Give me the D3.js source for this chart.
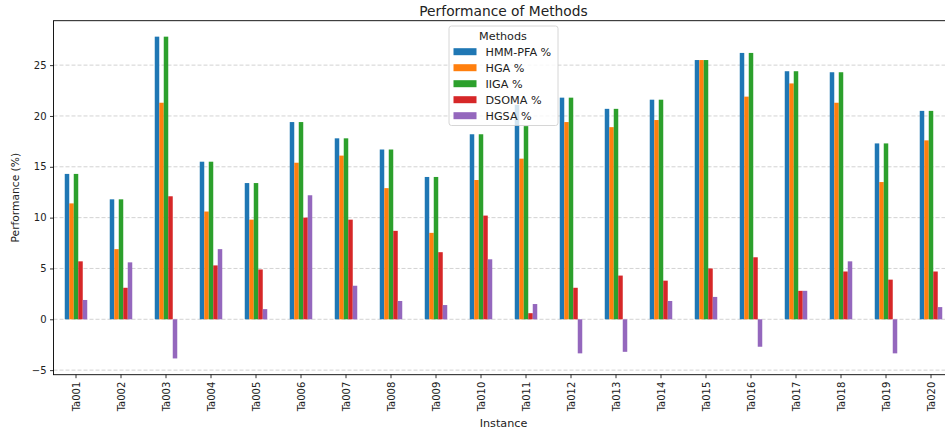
<!DOCTYPE html>
<html>
<head>
<meta charset="utf-8">
<script src="https://cdn.jsdelivr.net/npm/d3@7"></script>
<style>
  body { margin: 0; background: #fff; }
  text { font-family: "DejaVu Sans", sans-serif; fill: #222; }
</style>
</head>
<body>
<div id="chart"></div>
<script>
// values
var instances = ["Ta001","Ta002","Ta003","Ta004","Ta005","Ta006","Ta007","Ta008","Ta009","Ta010",
                 "Ta011","Ta012","Ta013","Ta014","Ta015","Ta016","Ta017","Ta018","Ta019","Ta020"];
var methods = ["HMM-PFA %", "HGA %", "IIGA %", "DSOMA %", "HGSA %"];
var colors = ["#1f77b4", "#ff7f0e", "#2ca02c", "#d62728", "#9467bd"];

var hmmPfa = [14.3, 11.8, 27.8, 15.5, 13.4, 19.4, 17.8, 16.7, 14.0, 18.2, 21.1, 21.8, 20.7, 21.6, 25.5, 26.2, 24.4, 24.3, 17.3, 20.5];
var hga    = [11.4,  6.9, 21.3, 10.6,  9.8, 15.4, 16.1, 12.9,  8.5, 13.7, 15.8, 19.4, 18.9, 19.6, 25.5, 21.9, 23.2, 21.3, 13.5, 17.6];
var iiga   = [14.3, 11.8, 27.8, 15.5, 13.4, 19.4, 17.8, 16.7, 14.0, 18.2, 19.0, 21.8, 20.7, 21.6, 25.5, 26.2, 24.4, 24.3, 17.3, 20.5];
var dsoma  = [ 5.7,  3.1, 12.1,  5.3,  4.9, 10.0,  9.8,  8.7,  6.6, 10.2,  0.6,  3.1,  4.3,  3.8,  5.0,  6.1,  2.8,  4.7,  3.9,  4.7];
var hgsa   = [ 1.9,  5.6, -3.85, 6.9,  1.0, 12.2,  3.3,  1.8,  1.4,  5.9,  1.5, -3.35, -3.2, 1.8,  2.2, -2.7,  2.8,  5.7, -3.35, 1.2];
var seriesValues = [hmmPfa, hga, iiga, dsoma, hgsa];
var yTicks = [-5, 0, 5, 10, 15, 20, 25];

var svgWidth = 945;
var svgHeight = 432;
var plot = { left: 53.5, right: 953.5, top: 20.7, bottom: 374.7 };

var svg = d3.select("#chart")
  .append("svg")
  .attr("width", svgWidth)
  .attr("height", svgHeight);

// scales
var x0 = d3.scaleBand()
  .domain(instances)
  .range([plot.left, plot.right]);

var x1 = d3.scaleBand()
  .domain(methods)
  .range([0, x0.bandwidth() * 0.5]);

var y = d3.scaleLinear()
  .domain([-5.45, 29.37])
  .range([plot.bottom, plot.top]);

// grid lines
svg.append("g")
  .selectAll("line")
  .data(yTicks)
  .enter()
  .append("line")
  .attr("x1", plot.left)
  .attr("x2", plot.right)
  .attr("y1", d => y(d))
  .attr("y2", d => y(d))
  .attr("stroke", "#b0b0b0")
  .attr("stroke-opacity", 0.7)
  .attr("stroke-width", 0.8)
  .attr("stroke-dasharray", "4,2");

// bars
var groups = svg.append("g")
  .selectAll("g")
  .data(instances)
  .enter()
  .append("g")
  .attr("transform", d => `translate(${x0(d) + x0.bandwidth() * 0.25}, 0)`);

groups.selectAll("rect")
  .data((d, i) => methods.map((m, k) => ({ method: m, value: seriesValues[k][i], color: colors[k] })))
  .enter()
  .append("rect")
  .attr("x", d => x1(d.method))
  .attr("width", x1.bandwidth())
  .attr("y", d => y(Math.max(0, d.value)))
  .attr("height", d => Math.abs(y(d.value) - y(0)))
  .attr("fill", d => d.color);

// axes
var bottomAxis = d3.axisBottom(x0).tickSize(3.5).tickPadding(3.5);
var leftAxis = d3.axisLeft(y).tickValues(yTicks).tickSize(3.5).tickPadding(3.5);

var gx = svg.append("g")
  .attr("transform", `translate(0, ${plot.bottom})`)
  .call(bottomAxis);
gx.selectAll("text")
  .attr("transform", "rotate(-90)")
  .attr("x", -7)
  .attr("y", 0)
  .attr("dy", "0.35em")
  .style("text-anchor", "end")
  .style("font-size", "10px");

var gy = svg.append("g")
  .attr("transform", `translate(${plot.left}, 0)`)
  .call(leftAxis);
gy.selectAll("text").style("font-size", "10px");

svg.selectAll(".domain").remove();
svg.selectAll(".tick line").attr("stroke", "#000").attr("stroke-width", 0.8);

// spines
svg.append("rect")
  .attr("x", plot.left)
  .attr("y", plot.top)
  .attr("width", plot.right - plot.left)
  .attr("height", plot.bottom - plot.top)
  .attr("fill", "none")
  .attr("stroke", "#000")
  .attr("stroke-width", 0.9);

// title and axis labels
svg.append("text")
  .attr("x", (plot.left + plot.right) / 2)
  .attr("y", 15.5)
  .attr("text-anchor", "middle")
  .style("font-size", "13.8px")
  .text("Performance of Methods");

svg.append("text")
  .attr("x", (plot.left + plot.right) / 2)
  .attr("y", 426.7)
  .attr("text-anchor", "middle")
  .style("font-size", "11.2px")
  .text("Instance");

svg.append("text")
  .attr("transform", `translate(19, ${(plot.top + plot.bottom) / 2}) rotate(-90)`)
  .attr("text-anchor", "middle")
  .style("font-size", "10.7px")
  .text("Performance (%)");

// legend
var legend = svg.append("g");
legend.append("rect")
  .attr("x", 449)
  .attr("y", 26)
  .attr("width", 109)
  .attr("height", 99.5)
  .attr("rx", 2.5)
  .attr("fill", "#fff")
  .attr("fill-opacity", 0.8)
  .attr("stroke", "#cccccc")
  .attr("stroke-width", 0.8);

legend.append("text")
  .attr("x", 503)
  .attr("y", 39.8)
  .attr("text-anchor", "middle")
  .style("font-size", "11.2px")
  .text("Methods");

var items = legend.selectAll(".item")
  .data(methods)
  .enter()
  .append("g")
  .attr("transform", (d, i) => `translate(0, ${51.7 + i * 16})`);

items.append("rect")
  .attr("x", 453.5)
  .attr("y", -3.5)
  .attr("width", 23)
  .attr("height", 7)
  .attr("fill", (d, i) => colors[i]);

items.append("text")
  .attr("x", 485.5)
  .attr("y", 0)
  .attr("dy", "0.35em")
  .style("font-size", "11.2px")
  .text(d => d);
</script>
</body>
</html>
